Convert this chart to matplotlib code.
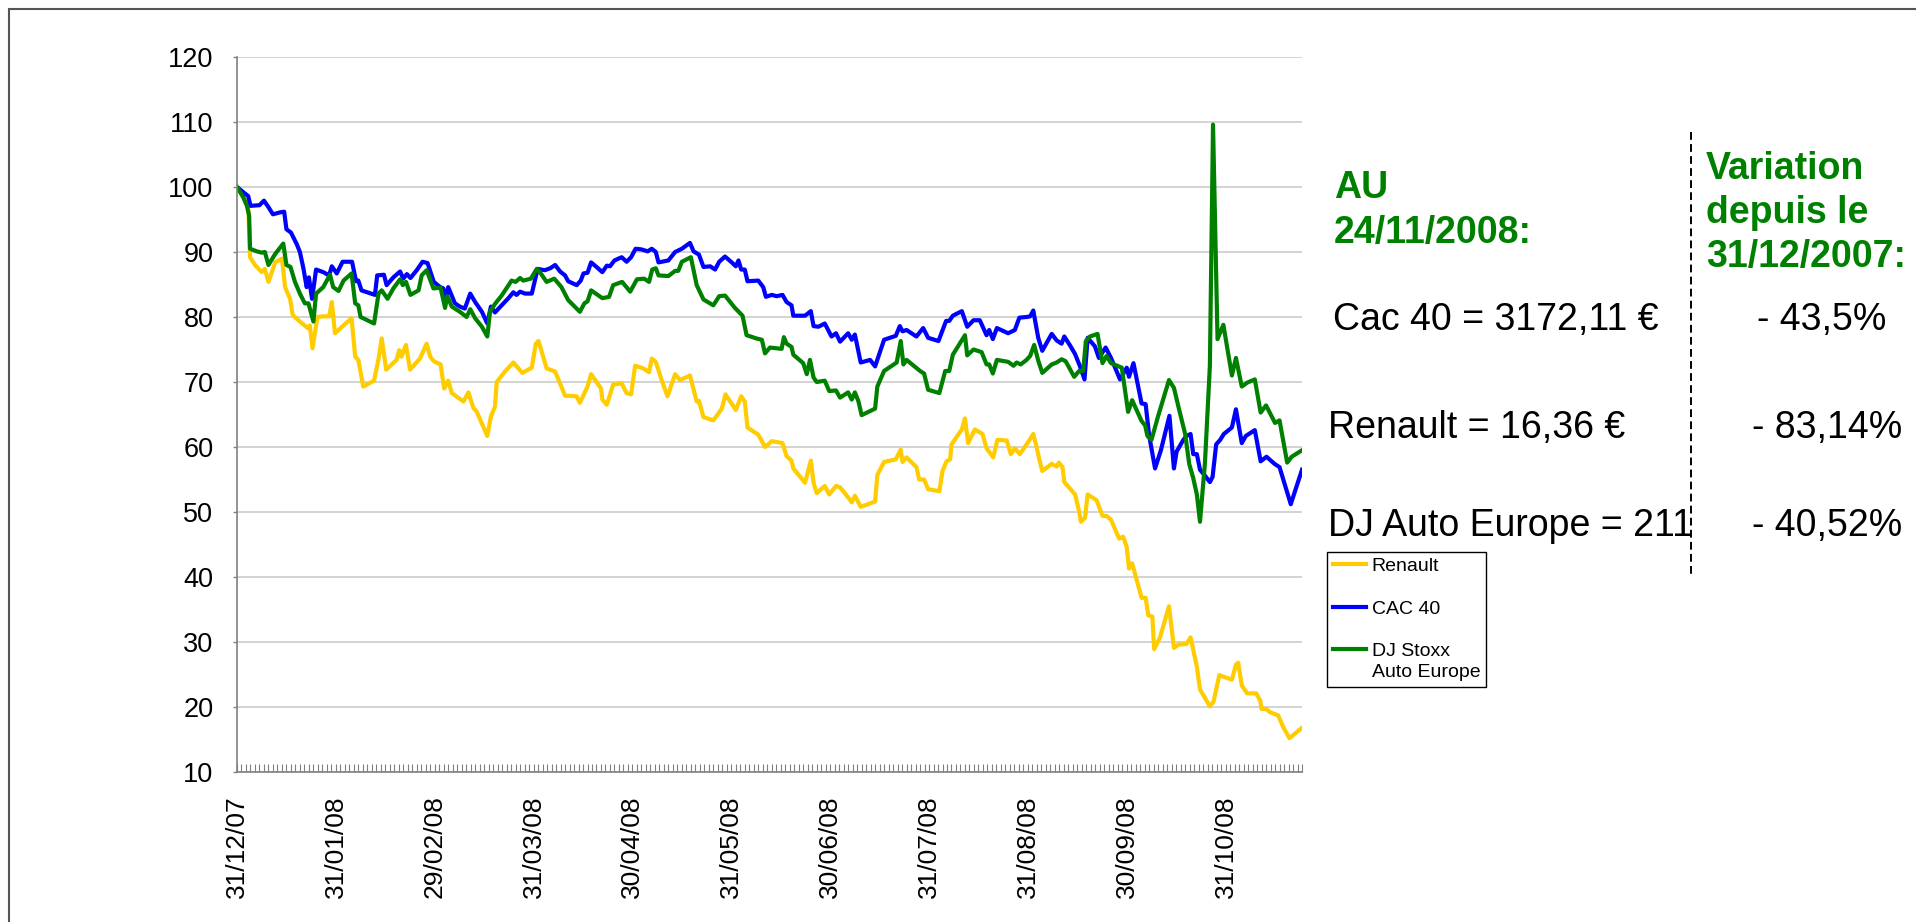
import matplotlib
matplotlib.use("Agg")
import matplotlib.pyplot as plt
from matplotlib.lines import Line2D
from matplotlib.patches import Rectangle
from matplotlib.legend_handler import HandlerLine2D

plt.rcParams['font.family'] = ['Liberation Sans', 'DejaVu Sans']

# ---------------- data (trading-day index since 31/12/2007, base 100) ----------------
renault_day = [0, 1.4, 2.5, 2.9, 4.0, 5.5, 6.2, 7.0, 8.5, 10.0, 10.7, 11.8, 12.4, 14.0, 15.7, 16.2, 16.8,
               17.9, 19.2, 20.5, 21.1, 21.8, 23.7, 25.5, 26.3, 27.0, 28.1, 30.5, 31.5, 32.2, 33.2, 35.5,
               36.1, 36.6, 37.6, 38.5, 40.7, 42.2, 43.0, 43.8, 45.3, 46.1, 47.0, 47.8, 50.4, 51.5, 52.6,
               53.3, 55.7, 56.5, 57.4, 57.8, 59.6, 61.5, 63.5, 65.6, 66.5, 67.1, 68.9, 70.8, 73.0, 75.6,
               76.3, 78.0, 78.8, 81.0, 81.3, 82.3, 83.7, 85.6, 86.7, 87.7, 88.6, 90.4, 91.7, 92.3, 93.2,
               94.5, 95.8, 96.7, 97.5, 98.6, 100.8, 102.3, 102.8, 103.8, 106.0, 107.9, 108.7, 111.0,
               112.2, 113.0, 113.6, 116.0, 117.5, 119.0, 121.4, 122.3, 123.4, 123.8, 126.4, 127.7, 128.3,
               129.0, 130.8, 131.8, 133.3, 134.2, 135.5, 136.8, 137.5, 138.8, 142.0, 142.5, 144.0, 146.6,
               147.7, 148.1, 149.0, 151.2, 151.8, 152.9, 153.8, 156.3, 157.0, 157.9, 158.7, 159.0, 161.3,
               162.0, 162.7, 164.2, 165.9, 166.8, 168.3, 169.2, 171.3, 172.2, 173.1, 174.2, 176.2, 177.2,
               177.9, 178.5, 179.2, 181.3, 182.4, 182.9, 183.7, 184.1, 186.5, 187.4, 187.8, 188.7, 189.3,
               191.3, 192.6, 193.5, 194.5, 196.3, 197.2, 198.0, 198.5, 199.2, 201.3, 202.2, 202.8, 203.7,
               204.1, 205.4, 207.4, 208.5, 209.5, 211.3, 212.2, 213.6, 214.3, 216.5, 217.3, 218.6, 221.4,
               222.3, 222.8, 223.6, 224.8, 226.8, 227.7, 228.0, 229.0, 229.9, 231.7, 232.9, 234.2, 237.0]
renault_val = [100, 98.6, 97.1, 89.2, 88.0, 86.9, 87.4, 85.4, 88.4, 89.0, 84.6, 82.8, 80.3, 79.3, 78.3, 78.7, 75.2,
               80.0, 80.1, 80.1, 82.3, 77.5, 78.7, 79.8, 73.9, 73.4, 69.3, 70.2, 73.6, 76.7, 71.9, 73.4,
               74.9, 73.9, 75.7, 71.9, 73.6, 75.9, 73.9, 73.2, 72.7, 69.0, 70.2, 68.3, 67.0, 68.4, 66.0,
               65.5, 61.7, 64.7, 66.2, 70.0, 71.6, 73.0, 71.4, 72.2, 75.9, 76.3, 72.1, 71.6, 67.9, 67.8,
               66.8, 69.3, 71.2, 69.0, 67.3, 66.5, 69.6, 69.8, 68.3, 68.1, 72.5, 72.1, 71.5, 73.6, 73.1,
               70.3, 67.8, 69.6, 71.2, 70.3, 71.0, 67.0, 67.1, 64.6, 64.1, 65.9, 68.1, 65.7,
               67.8, 67.0, 63.0, 61.9, 60.0, 60.9, 60.6, 58.6, 57.9, 56.7, 54.5, 57.9, 54.5,
               52.9, 54.0, 52.7, 54.0, 53.8, 52.7, 51.5, 52.5, 50.8, 51.6, 55.7, 57.7, 58.1,
               59.6, 57.7, 58.4, 56.9, 55.0, 55.0, 53.5, 53.2, 56.3, 57.8, 58.1, 60.4, 62.7,
               64.4, 60.6, 62.7, 62.0, 59.8, 58.4, 61.1, 61.0, 58.9, 59.8, 58.9, 60.9, 62.0,
               60.1, 58.2, 56.3, 57.4, 57.0, 57.6, 56.9, 54.6, 52.7, 50.1, 48.5, 49.1, 52.7,
               51.8, 49.4, 49.4, 48.8, 45.9, 46.2, 44.6, 41.3, 42.1, 36.8, 36.8, 34.1, 33.9,
               28.9, 30.7, 35.5, 29.1, 29.6, 29.7, 30.7, 26.2, 22.7, 20.1, 20.8, 24.9, 24.2,
               26.5, 26.8, 23.3, 22.1, 22.1, 21.0, 19.7, 19.7, 19.2, 18.7, 16.8, 15.2, 16.8]

cac_day = [0, 1.4, 2.5, 3.0, 5.0, 6.0, 7.0, 8.0, 9.6, 10.5, 11.0, 12.0, 13.3, 14.0, 14.8, 15.5, 16.0, 16.7,
           17.6, 19.2, 20.5, 21.1, 22.2, 23.5, 25.6, 26.5, 27.0, 27.7, 30.7, 31.2, 32.7, 33.3, 34.8, 36.3,
           37.0, 37.8, 38.6, 40.0, 41.3, 42.4, 43.8, 45.2, 45.9, 46.5, 47.0, 48.5, 49.6, 50.7, 51.9, 53.0,
           54.5, 55.7, 56.5, 57.4, 58.9, 60.4, 61.5, 62.2, 63.0, 64.1, 65.6, 66.9, 68.5, 69.7, 70.8, 71.9,
           73.0, 73.7, 75.6, 76.5, 77.1, 78.0, 78.8, 80.0, 81.3, 82.3, 83.0, 84.0, 85.6, 86.7, 87.7, 88.7,
           90.0, 91.4, 92.3, 93.2, 93.8, 96.0, 97.5, 99.0, 100.8, 101.6, 102.8, 103.8, 105.3, 106.4, 107.3,
           108.6, 110.1, 111.0, 111.6, 112.2, 113.0, 113.6, 116.0, 117.1, 117.7, 119.0, 120.1, 121.4, 122.3,
           123.4, 123.8, 126.4, 127.7, 128.3, 129.4, 130.8, 132.3, 133.3, 134.2, 136.0, 136.8, 137.5, 138.8,
           140.9, 142.0, 144.0, 146.6, 147.5, 148.1, 149.0, 151.2, 152.7, 153.8, 156.1, 157.8, 158.5, 159.3,
           161.3, 162.5, 163.9, 165.3, 166.8, 167.4, 168.2, 169.1, 171.6, 173.1, 174.1, 175.7, 176.5, 177.2,
           178.3, 179.2, 181.3, 182.4, 183.5, 184.1, 185.4, 186.5, 187.6, 188.6, 189.3, 190.9, 191.8, 193.3,
           194.5, 196.5, 198.0, 198.5, 199.5, 201.3, 202.2, 203.0, 204.3, 205.6, 207.5, 208.5, 209.1, 210.6,
           211.3, 212.2, 212.8, 213.6, 214.3, 215.4, 216.5, 217.1, 217.9, 218.8, 219.6, 221.4, 222.3, 223.6,
           224.5, 226.5, 227.8, 229.1, 230.9, 232.0, 233.0, 234.5, 237.0]
cac_val = [100, 99.2, 98.6, 97.1, 97.2, 97.9, 96.9, 95.8, 96.1, 96.2, 93.5, 93.0, 91.2, 90.0, 87.4, 84.6, 86.1, 82.8,
           87.3, 86.9, 86.4, 87.8, 86.7, 88.5, 88.5, 85.5, 85.6, 84.1, 83.4, 86.4, 86.5, 84.9, 86.1, 87.0,
           85.9, 86.6, 86.0, 87.2, 88.5, 88.3, 85.4, 84.6, 84.4, 82.8, 84.6, 82.1, 81.6, 81.3, 83.6, 82.3,
           80.8, 79.0, 81.6, 80.7, 81.8, 82.9, 83.8, 83.4, 83.9, 83.6, 83.6, 87.4, 87.2, 87.5, 88.0, 87.0,
           86.4, 85.5, 84.9, 85.6, 86.7, 86.8, 88.4, 87.7, 86.9, 87.9, 87.8, 88.7, 89.2, 88.5, 89.2, 90.5,
           90.4, 90.1, 90.5, 90.0, 88.4, 88.7, 90.0, 90.5, 91.4, 90.1, 89.6, 87.7, 87.8, 87.3, 88.5,
           89.3, 88.4, 87.8, 88.7, 87.3, 87.3, 85.5, 85.6, 84.6, 83.1, 83.4, 83.2, 83.4, 82.3,
           81.8, 80.2, 80.2, 80.9, 78.6, 78.5, 79.0, 77.0, 77.5, 76.2, 77.5, 76.5, 77.3, 73.0,
           73.4, 72.4, 76.5, 77.1, 78.6, 77.8, 78.0, 77.0, 78.3, 76.8, 76.3, 79.4, 79.4, 80.2,
           80.9, 78.5, 79.5, 79.5, 77.2, 78.0, 76.6, 78.3, 77.5, 78.0, 79.9, 80.0, 80.1, 81.0,
           76.8, 74.8, 77.4, 76.4, 75.9, 77.0, 75.6, 74.3, 72.4, 70.4, 76.8, 75.5, 73.7, 75.3,
           73.7, 70.4, 72.2, 70.8, 72.9, 66.7, 66.6, 61.7, 56.7, 59.5, 64.8, 56.7, 59.3, 61.1,
           61.7, 62.0, 58.9, 58.9, 56.5, 55.6, 54.6, 55.4, 60.4, 61.1, 62.0, 63.0, 65.8, 60.6,
           61.7, 62.6, 57.8, 58.5, 57.4, 56.9, 54.6, 51.2, 56.5]

stoxx_day = [0, 1.4, 2.2, 2.7, 2.9, 4.4, 5.5, 6.2, 7.0, 8.5, 10.3, 11.0, 11.9, 12.9, 14.0, 15.1, 15.9, 17.0,
             17.6, 19.2, 20.7, 21.4, 22.6, 23.7, 25.5, 26.3, 27.0, 27.5, 30.5, 31.5, 32.2, 33.5, 34.8, 36.3,
             36.9, 37.6, 38.6, 40.4, 41.1, 42.2, 43.7, 45.3, 46.3, 46.8, 47.8, 49.6, 51.1, 51.9, 53.0, 54.5,
             55.7, 56.3, 57.4, 58.9, 61.1, 62.0, 63.0, 63.7, 65.4, 66.7, 67.4, 68.9, 70.6, 72.2, 73.7, 76.3,
             77.3, 78.0, 78.8, 81.3, 82.8, 83.7, 85.7, 87.5, 89.0, 90.6, 91.7, 92.4, 93.2, 93.8, 96.0, 97.5,
             98.2, 99.0, 101.0, 102.3, 103.8, 106.0, 107.3, 108.6, 110.8, 112.5, 113.4, 115.6, 116.8, 117.5,
             118.6, 121.2, 121.7, 122.3, 123.4, 123.8, 126.0, 126.8, 127.5, 128.3, 129.0, 130.8, 131.8, 133.3,
             134.2, 136.0, 136.8, 137.5, 138.3, 139.0, 142.0, 142.5, 144.0, 146.8, 147.7, 148.3, 149.0, 152.0,
             152.9, 153.8, 156.3, 157.6, 158.5, 159.3, 162.0, 162.5, 163.9, 165.7, 166.8, 167.4, 168.2, 169.1,
             171.6, 172.8, 173.5, 174.4, 175.7, 176.5, 177.4, 178.3, 179.2, 181.3, 182.4, 183.5, 184.4, 186.3,
             187.4, 188.3, 188.9, 189.8, 191.5, 192.6, 193.5, 194.5, 196.9, 198.3, 199.2, 201.3, 202.1, 202.6,
             203.5, 205.0, 207.4, 208.5, 209.5, 211.0, 211.9, 212.8, 213.6, 214.3, 215.4, 216.5, 217.2, 218.2,
             219.5, 221.4, 222.3, 223.6, 224.8, 226.5, 227.8, 229.0, 231.0, 232.0, 233.7, 234.7, 237.0]
stoxx_val = [100, 98.4, 97.1, 95.6, 90.5, 90.1, 89.9, 90.0, 88.0, 89.7, 91.3, 88.0, 87.7, 85.4, 83.6, 82.1, 82.1, 79.3,
             83.6, 84.6, 86.5, 84.6, 84.0, 85.6, 86.7, 82.1, 81.8, 80.0, 79.0, 83.6, 84.1, 82.8, 84.4, 85.8,
             84.9, 85.4, 83.4, 84.1, 86.4, 87.2, 84.4, 84.5, 81.4, 83.2, 81.6, 80.8, 80.0, 81.2, 79.8, 78.5,
             77.0, 80.8, 82.0, 83.3, 85.6, 85.4, 86.0, 85.6, 85.9, 87.4, 86.9, 85.4, 85.9, 84.6, 82.6, 80.8,
             82.1, 82.4, 84.1, 82.9, 83.1, 84.9, 85.4, 83.9, 85.8, 85.9, 85.4, 87.3, 87.5, 86.4, 86.3, 87.1,
             87.1, 88.5, 89.2, 84.9, 82.7, 81.8, 83.2, 83.3, 81.4, 80.2, 77.2, 76.7, 76.5, 74.4,
             75.3, 75.1, 76.9, 75.9, 75.4, 74.2, 72.9, 71.2, 73.4, 70.7, 70.0, 70.2, 68.6, 68.7,
             67.6, 68.4, 67.3, 68.4, 67.0, 64.9, 65.9, 69.3, 71.7, 73.0, 76.3, 72.7, 73.4, 71.7,
             71.3, 68.8, 68.3, 71.7, 71.7, 74.2, 77.2, 74.1, 75.0, 74.6, 72.7, 72.7, 71.3, 73.4,
             73.1, 72.5, 73.0, 72.7, 73.4, 74.0, 75.7, 73.3, 71.4, 72.7, 73.0, 73.5, 73.2, 70.8,
             71.7, 71.7, 76.3, 77.0, 77.4, 72.9, 74.0, 72.9, 72.2, 65.4, 67.2, 64.0, 63.3, 61.7,
             61.1, 64.8, 70.3, 69.1, 66.2, 62.0, 57.4, 55.2, 52.7, 48.5, 57.5, 72.5, 109.6, 76.6,
             78.8, 71.0, 73.7, 69.3, 69.9, 70.4, 65.3, 66.4, 63.7, 64.1, 57.6, 58.5, 59.5]

series_names = ["Renault", "CAC 40", "DJ Stoxx\nAuto Europe"]
series_colors = ["#FFCC00", "#0000FF", "#008000"]

n_days = 238
tick_days = [0, 22, 44, 66, 88, 110, 132, 154, 176, 198, 220]
tick_labels = ["31/12/07", "31/01/08", "29/02/08", "31/03/08", "30/04/08", "31/05/08",
               "30/06/08", "31/07/08", "31/08/08", "30/09/08", "31/10/08"]
y_ticks = [10, 20, 30, 40, 50, 60, 70, 80, 90, 100, 110, 120]

heading_left = ["AU", "24/11/2008:"]
heading_right = ["Variation", "depuis le", "31/12/2007:"]
value_lines = ["Cac 40 = 3172,11 €", "Renault = 16,36 €", "DJ Auto Europe = 211"]
change_lines = ["- 43,5%", "- 83,14%", "- 40,52%"]

# ---------------- figure ----------------
W, H = 1916, 922
fig = plt.figure(figsize=(W / 100, H / 100), dpi=100)
fig.patch.set_facecolor("white")


def fx(px):
    return px / W


def fy(py):
    return 1 - py / H


ax = fig.add_axes([fx(237), fy(772), (1302 - 237) / W, (772 - 57) / H])

green = "#008000"
gray = "#808080"

lines = []
for d, v, name, col in zip([renault_day, cac_day, stoxx_day],
                           [renault_val, cac_val, stoxx_val],
                           series_names, series_colors):
    ln, = ax.plot(d, v, color=col, lw=3.0, label=name, solid_joinstyle="round")
    lines.append(ln)

ax.set_xlim(0, n_days - 1)
ax.set_ylim(10, 120)
ax.set_yticks(y_ticks)
ax.set_xticks(tick_days)
ax.set_xticklabels(tick_labels, rotation=90)
ax.set_xticks(range(n_days), minor=True)

ax.tick_params(axis="x", which="both", direction="in", length=5.5, width=0.8, color=gray,
               labelsize=19, pad=17)
ax.tick_params(axis="y", which="major", direction="out", length=3, width=1, color=gray,
               labelsize=19.5, pad=14)

for s in ["top", "right"]:
    ax.spines[s].set_visible(False)
for s in ["left", "bottom"]:
    ax.spines[s].set_color(gray)
    ax.spines[s].set_linewidth(1.2)

ax.set_axisbelow(True)
ax.yaxis.grid(True, color="#c8c8c8", lw=1.1)
for t in ax.yaxis.get_major_ticks():
    if t.get_loc() in (10, 120):
        t.gridline.set_visible(False)


# legend: the two-line entry keeps its line next to the first text line
class FirstLineHandler(HandlerLine2D):
    def __init__(self, raise_pt, **kw):
        super().__init__(**kw)
        self.raise_pt = raise_pt

    def create_artists(self, legend, orig_handle, xdescent, ydescent, width, height, fontsize, trans):
        return super().create_artists(legend, orig_handle, xdescent, ydescent - 2 * self.raise_pt,
                                      width, height, fontsize, trans)


leg_fs = 14
leg_ls = 1.3
leg = ax.legend(handles=lines, loc="upper left", bbox_to_anchor=(fx(1326.7), fy(551.6)),
                bbox_transform=fig.transFigure, fontsize=leg_fs, frameon=True, fancybox=False,
                edgecolor="black", framealpha=1, borderpad=0.3, borderaxespad=0,
                handlelength=1.72, handletextpad=0.3, labelspacing=1.29,
                handler_map={lines[2]: FirstLineHandler(0.5 * leg_ls * leg_fs)})
leg.get_frame().set_linewidth(1.0)
for t in leg.get_texts():
    t.set_linespacing(leg_ls)

# texts on the right
for txt, py in zip(heading_left, [198, 243]):
    fig.text(fx(1334), fy(py), txt, color=green, fontsize=27, fontweight="bold", va="baseline", ha="left")
for txt, py in zip(heading_right, [179, 223, 267]):
    fig.text(fx(1706), fy(py), txt, color=green, fontsize=27, fontweight="bold", va="baseline", ha="left")
for txt, px, py in zip(value_lines, [1333, 1328, 1328], [330, 438, 536]):
    fig.text(fx(px), fy(py), txt, color="black", fontsize=27, va="baseline", ha="left")
for txt, px, py in zip(change_lines, [1757, 1752, 1752], [330, 438, 536]):
    fig.text(fx(px), fy(py), txt, color="black", fontsize=27, va="baseline", ha="left")

# dashed separator
fig.add_artist(Line2D([fx(1691), fx(1691)], [fy(132), fy(575)], transform=fig.transFigure,
                      color="black", lw=1.4, linestyle=(0, (4, 2.2))))

# outer frame (partially visible)
fig.add_artist(Rectangle((fx(9), -0.5), 2, fy(9.5) + 0.5, transform=fig.transFigure,
                         fill=False, edgecolor="#555555", lw=1.5))

fig.savefig("out.png", dpi=100, facecolor="white")
